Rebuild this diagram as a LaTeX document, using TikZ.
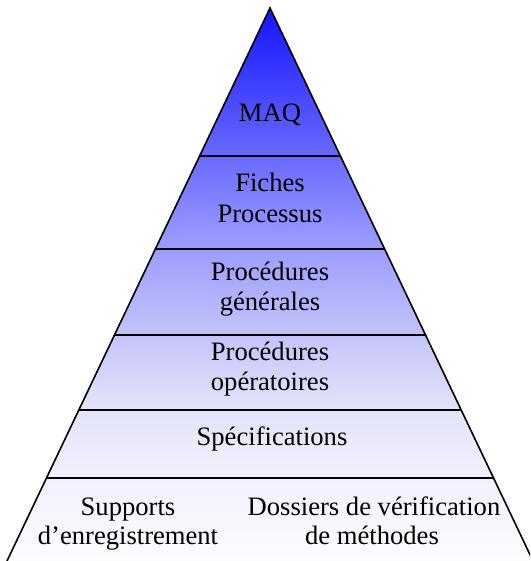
\documentclass[tikz,border=0pt]{standalone}
\usepackage{fontspec}
\setmainfont{Liberation Serif}
\usetikzlibrary{calc}
\pgfdeclareverticalshading{pyrshade}{100bp}{rgb(0bp)=(0.99,0.99,1); rgb(25bp)=(0.99,0.99,1); rgb(33.25bp)=(0.94,0.94,0.99); rgb(39.5bp)=(0.88,0.88,0.98); rgb(46.25bp)=(0.75,0.75,0.98); rgb(54.5bp)=(0.59,0.59,1); rgb(62.5bp)=(0.39,0.39,1); rgb(75bp)=(0.08,0.08,1); rgb(100bp)=(0.08,0.08,1)}
\tikzset{
  ln/.style={line width=1.6pt, black},
  lbl/.style={anchor=base, inner sep=0pt, font=\fontsize{26.6}{30}\selectfont, text=black}
}
\begin{document}
\begin{tikzpicture}[x=1pt,y=-1pt]
\useasboundingbox (0,0) rectangle (530,561);
\clip (0,0) rectangle (530,561);
\coordinate (A) at (270,8);
\coordinate (BL) at (7,561);
\coordinate (BR) at (533,561);
\shade[shading=pyrshade] (A) -- (BR) -- (BL) -- cycle;
\draw[ln, line join=miter] (BL) -- (A) -- (BR);
\foreach \t [count=\i] in {0.2676,0.4358,0.5913,0.7269,0.8499}{
  \coordinate (L\i) at ($(A)!\t!(BL)$);
  \coordinate (R\i) at ($(A)!\t!(BR)$);
  \draw[ln] (L\i) -- (R\i);
}
\node[lbl] (maq) at (270,122) {MAQ};
\node[lbl] (fp1) at (270,192) {Fiches};
\node[lbl] (fp2) at (270,222) {Processus};
\node[lbl] (pg1) at (270,280) {Procédures};
\node[lbl] (pg2) at (270,310) {générales};
\node[lbl] (po1) at (270,360) {Procédures};
\node[lbl] (po2) at (270,390) {opératoires};
\node[lbl] (spec) at (272,445) {Spécifications};
\node[lbl] (se1) at (128,515) {Supports};
\node[lbl] (se2) at (128,544) {d’enregistrement};
\node[lbl] (dv1) at (374,515) {Dossiers de vérification};
\node[lbl] (dv2) at (372,544) {de méthodes};
\end{tikzpicture}
\end{document}
